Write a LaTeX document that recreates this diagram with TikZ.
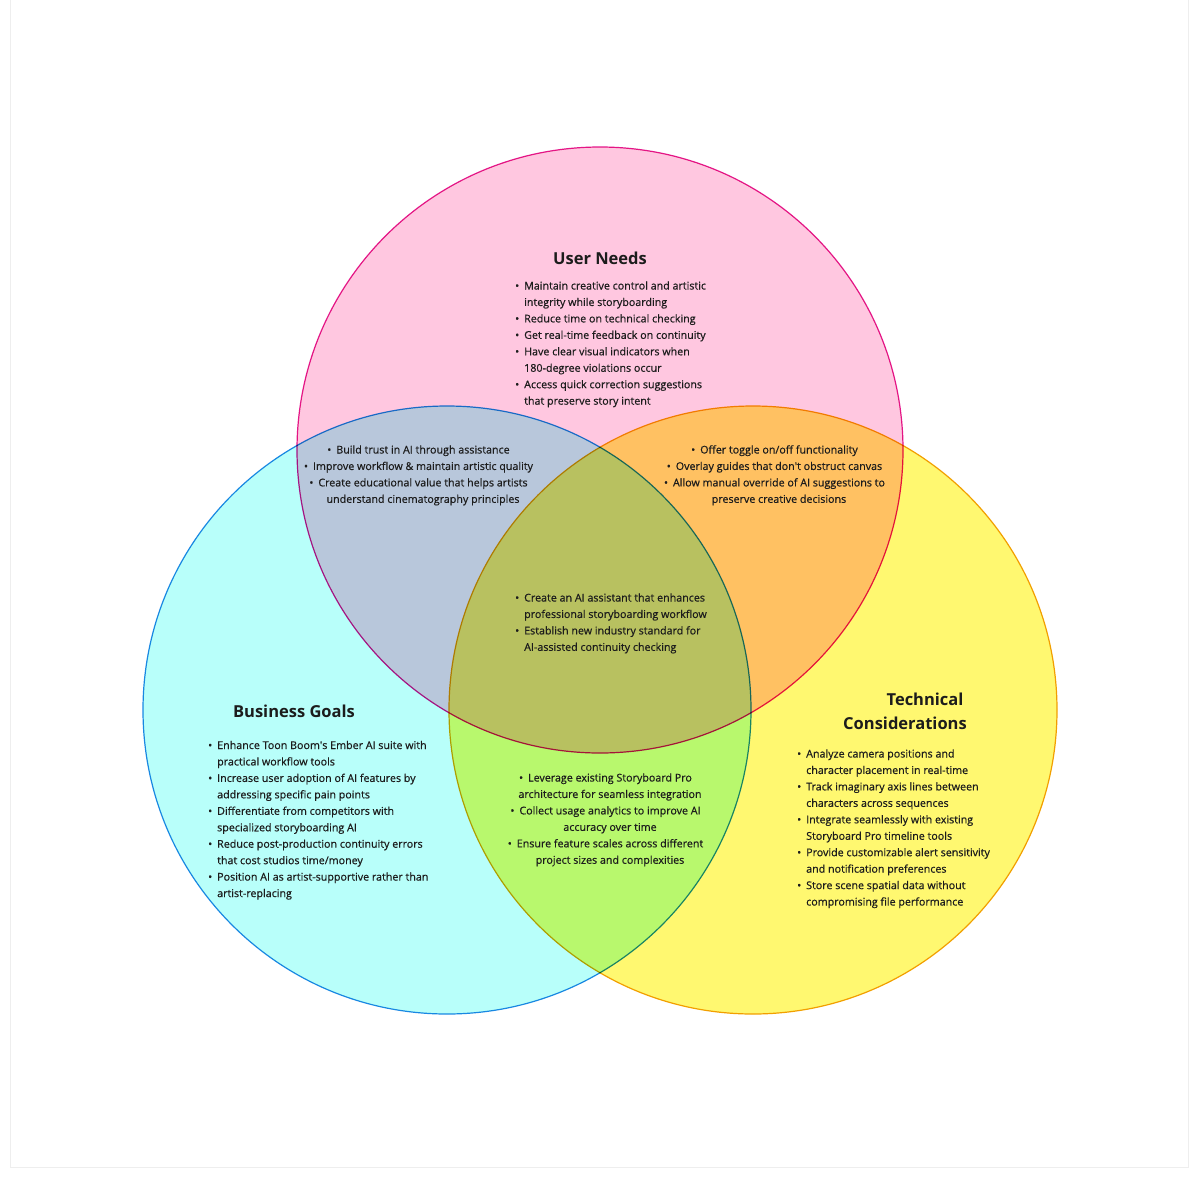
\documentclass[tikz,border=0pt]{standalone}
\usepackage{fontspec}
\setmainfont{Open Sans}[FakeBold=0.6]
\newfontfamily\ttlfont{Open Sans}
\definecolor{cpink}{HTML}{FFC7E0}
\definecolor{ccyan}{HTML}{B8FFFA}
\definecolor{cyell}{HTML}{FFF870}
\definecolor{smag}{HTML}{E4198F}
\definecolor{sblue}{HTML}{1E88E5}
\definecolor{sorange}{HTML}{F2A200}
\definecolor{txtc}{HTML}{1C1C1C}
\definecolor{framec}{HTML}{EEEEEE}
\newcommand\B{\llap{\textbullet\hspace{5pt}}}
\tikzset{
  txt/.style={inner sep=0pt, text=txtc, font=\fontsize{10.7}{12}\selectfont},
  ttl/.style={inner sep=0pt, text=txtc, font=\ttlfont\fontsize{16.5}{19}\selectfont\bfseries},
  ring/.style={line width=1.2pt}
}
\begin{document}
\begin{tikzpicture}[x=1pt,y=-1pt]
\useasboundingbox (0,0) rectangle (1200,1179);
\fill[white] (0,0) rectangle (1200,1179);
\draw[framec, line width=1pt] (10.5,-10) rectangle (1188.5,1167.5);
\begin{scope}[blend group=multiply]
  \draw[ring, draw=smag, fill=cpink] (600,450) circle[radius=303pt];
  \draw[ring, draw=sblue, fill=ccyan] (447,710) circle[radius=304pt];
  \draw[ring, draw=sorange, fill=cyell] (753,710) circle[radius=304pt];
\end{scope}
% titles
\node[ttl, anchor=base] (tun) at (600,264) {User Needs};
\node[ttl, anchor=base] (tbg) at (294,717) {Business Goals};
\node[ttl, anchor=base] (ttc1) at (925,705) {Technical};
\node[ttl, anchor=base] (ttc2) at (905,729) {Considerations};
% user needs
\foreach \t [count=\i] in {{\B Maintain creative control and artistic},{integrity while storyboarding},{\B Reduce time on technical checking},{\B Get real-time feedback on continuity},{\B Have clear visual indicators when},{180-degree violations occur},{\B Access quick correction suggestions},{that preserve story intent}}
  \node[txt, anchor=base west] (un\i) at (524,289.5+16.45*\i-16.45) {\t};
% user/business overlap
\foreach \t [count=\i] in {{\B Build trust in AI through assistance},{\B Improve workflow \& maintain artistic quality},{\B Create educational value that helps artists},{understand cinematography principles}}
  \node[txt, anchor=base] (ub\i) at (423,453.5+16.45*\i-16.45) {\t};
% user/technical overlap
\foreach \t [count=\i] in {{\B Offer toggle on/off functionality},{\B Overlay guides that don\textquotesingle t obstruct canvas},{\B Allow manual override of AI suggestions to},{preserve creative decisions}}
  \node[txt, anchor=base] (ut\i) at (779,453.5+16.45*\i-16.45) {\t};
% center
\foreach \t [count=\i] in {{\B Create an AI assistant that enhances},{professional storyboarding workflow},{\B Establish new industry standard for},{AI-assisted continuity checking}}
  \node[txt, anchor=base west] (ce\i) at (524,601.5+16.45*\i-16.45) {\t};
% business/technical overlap
\foreach \t [count=\i] in {{\B Leverage existing Storyboard Pro},{architecture for seamless integration},{\B Collect usage analytics to improve AI},{accuracy over time},{\B Ensure feature scales across different},{project sizes and complexities}}
  \node[txt, anchor=base] (bt\i) at (610,781.5+16.45*\i-16.45) {\t};
% business goals
\foreach \t [count=\i] in {{\B Enhance Toon Boom\textquotesingle s Ember AI suite with},{practical workflow tools},{\B Increase user adoption of AI features by},{addressing specific pain points},{\B Differentiate from competitors with},{specialized storyboarding AI},{\B Reduce post-production continuity errors},{that cost studios time/money},{\B Position AI as artist-supportive rather than},{artist-replacing}}
  \node[txt, anchor=base west] (bg\i) at (217,749+16.45*\i-16.45) {\t};
% technical
\foreach \t [count=\i] in {{\B Analyze camera positions and},{character placement in real-time},{\B Track imaginary axis lines between},{characters across sequences},{\B Integrate seamlessly with existing},{Storyboard Pro timeline tools},{\B Provide customizable alert sensitivity},{and notification preferences},{\B Store scene spatial data without},{compromising file performance}}
  \node[txt, anchor=base west] (tc\i) at (806,757.5+16.45*\i-16.45) {\t};
\end{tikzpicture}
\end{document}
